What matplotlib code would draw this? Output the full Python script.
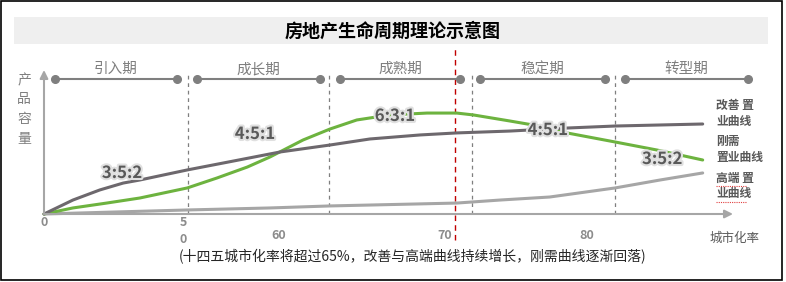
import matplotlib.pyplot as plt
import matplotlib.patheffects as pe
from matplotlib.patches import Rectangle

plt.rcParams['font.family'] = ['Noto Sans CJK SC', 'DejaVu Sans']

# ============================================================
# DATA (schematic: x = position along urbanisation axis 0-100,
#        y = product capacity 0-100)
# ============================================================

upgrade_x = [0, 4.2, 8.1, 11.5, 13.9, 20.8, 26.0, 34.3, 41.5, 47.3, 54.6, 59.9,
             67.6, 75.9, 82.9, 95.6]
upgrade_y = [0, 9.7, 16.7, 21.5, 23.6, 30.6, 35.4, 43.1, 47.9, 52.1, 54.9, 56.3,
             57.6, 59.7, 61.1, 62.5]

rigid_x = [0, 4.2, 9.1, 13.9, 20.8, 25.1, 29.5, 32.8, 37.6, 41.5, 45.4, 50.2,
           55.6, 59.9, 62.3, 67.6, 71.0, 75.9, 82.9, 89.0, 95.6]
rigid_y = [0, 4.2, 7.6, 11.1, 18.1, 25.0, 32.6, 39.6, 51.4, 59.0, 65.3, 68.8,
           70.1, 70.1, 68.8, 64.6, 61.8, 56.3, 50.0, 44.4, 37.5]

high_x = [0, 20.8, 32.8, 41.5, 59.9, 66.2, 73.4, 82.9, 89.4, 95.6]
high_y = [0, 2.8, 4.2, 5.6, 7.6, 9.7, 11.8, 18.1, 23.6, 28.5]

phases = ["引入期", "成长期", "成熟期", "稳定期", "转型期"]
phase_start = [1.6, 22.2, 43.0, 63.3, 84.3]
phase_end = [19.3, 40.1, 60.4, 81.4, 102.2]
phase_bounds = [20.9, 41.4, 62.1, 82.9]
marker_70 = 59.7

tick_pos = [0, 20.2, 34.1, 58.2, 78.8]
tick_text = ["0", "5\n0", "60", "70", "80"]

ratio_text = ["3:5:2", "4:5:1", "6:3:1", "4:5:1", "3:5:2"]
ratio_x = [11.3, 30.6, 50.9, 73.1, 89.7]
ratio_y = [28.5, 55.6, 68.1, 58.3, 38.2]

# ============================================================
# FIGURE
# ============================================================

fig = plt.figure(figsize=(7.86, 2.82), dpi=100)

bg = fig.add_axes([0, 0, 1, 1])
bg.set_xlim(0, 786)
bg.set_ylim(282, 0)
bg.axis("off")

# border + title bar
bg.add_patch(Rectangle((1, 1), 781, 279, fill=False, edgecolor="black", lw=1.2))
bg.add_patch(Rectangle((14, 17), 754, 27, facecolor="#efefef", edgecolor="none"))
bg.text(393, 31, "房地产生命周期理论示意图", ha="center", va="center",
        fontsize=13, fontweight="heavy", color="black")

# y-axis label
for i, ch in enumerate("产品容量"):
    bg.text(24, 80 + i * 19.5, ch, ha="center", va="center",
            fontsize=10, color="#7f7f7f")

bg.text(735, 238, "城市化率", ha="center", va="center", fontsize=9, color="#595959")
bg.text(413, 257, "(十四五城市化率将超过65%，改善与高端曲线持续增长，刚需曲线逐渐回落)",
        ha="center", va="center", fontsize=10, color="#262626")

# right-hand curve labels
bg.text(716, 113, "改善 置\n业曲线", ha="left", va="center", fontsize=8.5,
        fontweight="bold", color="#595959", linespacing=1.3)
bg.text(716, 149, "刚需\n置业曲线", ha="left", va="center", fontsize=8.5,
        fontweight="bold", color="#595959", linespacing=1.3)
bg.text(716, 186, "高端 置\n业曲线", ha="left", va="center", fontsize=8.5,
        fontweight="bold", color="#595959", linespacing=1.3)
# spell-check squiggles under the last label
bg.plot([716, 747], [185.5, 185.5], ls=(0, (1, 1)), color="#e04040", lw=0.8,
        zorder=6)
bg.plot([716, 747], [201.5, 201.5], ls=(0, (1, 1)), color="#e04040", lw=0.8,
        zorder=6)

# ============================================================
# MAIN AXES
# ============================================================

ax = fig.add_axes([44 / 786, 68 / 282, 689 / 786, 144 / 282])
ax.set_xlim(0, 100)
ax.set_ylim(0, 100)
ax.axis("off")

# axes arrows
ax.annotate("", xy=(100, 0), xytext=(0, 0),
            arrowprops=dict(arrowstyle="-|>", color="#a6a6a6", lw=1.5,
                            mutation_scale=12, shrinkA=0, shrinkB=0))
ax.annotate("", xy=(0, 100), xytext=(0, 0),
            arrowprops=dict(arrowstyle="-|>", color="#a6a6a6", lw=1.5,
                            mutation_scale=12, shrinkA=0, shrinkB=0))

# phase boundaries
for xb in phase_bounds:
    ax.plot([xb, xb], [0, 98.5], ls=(0, (3, 3)), color="#7f7f7f", lw=0.9,
            clip_on=False)
ax.plot([marker_70, marker_70], [-18, 117], ls=(0, (4, 3)), color="#c00000",
        lw=1.0, clip_on=False)

# phase bars
for name, x0, x1 in zip(phases, phase_start, phase_end):
    ax.plot([x0, x1], [93.8, 93.8], color="#7f7f7f", lw=1.5, marker="o",
            ms=5.5, clip_on=False)
    ax.text((x0 + x1) / 2, 100.5, name, ha="center", va="center",
            fontsize=10.5, color="#7f7f7f")

# curves
ax.plot(high_x, high_y, color="#a6a6a6", lw=2.2, solid_capstyle="round",
        solid_joinstyle="round", clip_on=False)
ax.plot(rigid_x, rigid_y, color="#6db33f", lw=2.2, solid_capstyle="round",
        solid_joinstyle="round", clip_on=False)
ax.plot(upgrade_x, upgrade_y, color="#6d686d", lw=2.2, solid_capstyle="round",
        solid_joinstyle="round", clip_on=False)

# ratio labels
for t, x, y in zip(ratio_text, ratio_x, ratio_y):
    ax.text(x, y, t, ha="center", va="center", fontsize=12, fontweight="bold",
            color="#595959",
            path_effects=[pe.withStroke(linewidth=3, foreground="#e0e0e0")],
            zorder=5)

# x tick labels (one text per line so "5 / 0" stacks like the original)
for x, t in zip(tick_pos, tick_text):
    lines = t.split("\n")
    y0 = -5.6 if len(lines) > 1 or t == "0" else -14.6
    for k, s in enumerate(lines):
        ax.text(x, y0 - k * 11.8, s, ha="center", va="center", fontsize=9,
                fontweight="bold", color="#8c8c8c", clip_on=False)

fig.savefig("out.png", dpi=100)
